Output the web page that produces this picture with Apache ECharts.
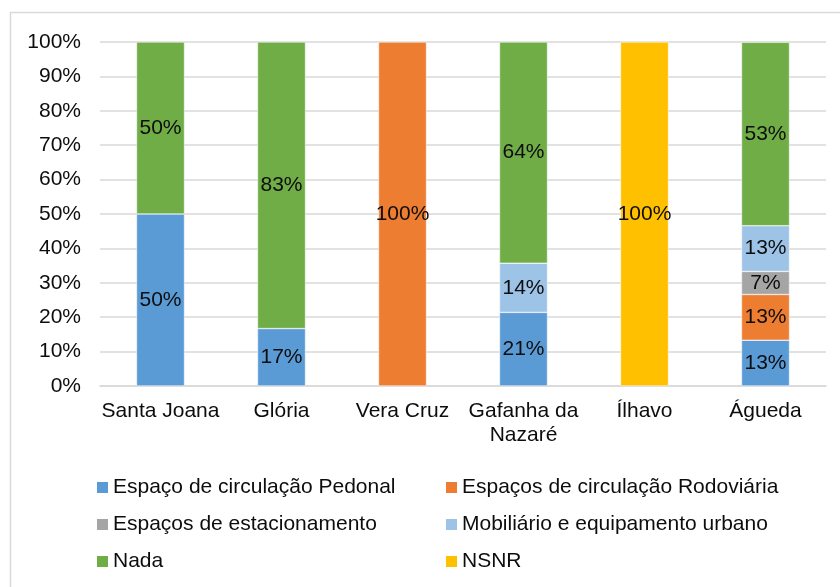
<!DOCTYPE html>
<html>
<head>
<meta charset="utf-8">
<script src="https://cdn.jsdelivr.net/npm/echarts@6/dist/echarts.min.js"></script>
<style>
  html, body { margin: 0; padding: 0; background: #fff; }
  #chart { width: 840px; height: 587px; }
</style>
</head>
<body>
<div id="chart"></div>
<script>
// Places surveyed
const categories = ['Santa Joana', 'Glória', 'Vera Cruz', 'Gafanha da\nNazaré', 'Ílhavo', 'Águeda'];

// Share of answers per place (%), one array per answer
const pedonal        = [50, 16.7, null, 21.4, null, 13.3];
const rodoviaria     = [null, null, 100, null, null, 13.3];
const estacionamento = [null, null, null, null, null, 6.7];
const mobiliario     = [null, null, null, 14.3, null, 13.3];
const nada           = [50, 83.3, null, 64.3, null, 53.3];
const nsnr           = [null, null, null, null, 100, null];

const seriesNames = [
  'Espaço de circulação Pedonal',
  'Espaços de circulação Rodoviária',
  'Espaços de estacionamento',
  'Mobiliário e equipamento urbano',
  'Nada',
  'NSNR'
];
const seriesData = [pedonal, rodoviaria, estacionamento, mobiliario, nada, nsnr];
const colors = ['#5B9BD5', '#ED7D31', '#A5A5A5', '#9DC3E6', '#70AD47', '#FFC000'];

const FONT = 'Liberation Sans, Arial, sans-serif';
const FS = 21;

const chart = echarts.init(document.getElementById('chart'), null, { renderer: 'canvas' });

const series = seriesNames.map((name, i) => ({
  name,
  type: 'bar',
  stack: 'total',
  barWidth: 48,
  data: seriesData[i],
  itemStyle: { color: colors[i], borderColor: '#ffffff', borderWidth: 0.5 },
  label: {
    show: true,
    position: 'inside',
    color: '#0d0d0d',
    fontFamily: FONT,
    fontSize: FS,
    formatter: p => (p.value == null ? '' : Math.round(p.value) + '%')
  },
  emphasis: { disabled: true }
}));

const legendCommon = {
  orient: 'vertical',
  icon: 'rect',
  itemWidth: 11,
  itemHeight: 11,
  itemGap: 16,
  itemStyle: { borderWidth: 0 },
  textStyle: { fontFamily: FONT, fontSize: FS, color: '#0d0d0d' },
  selectedMode: false
};

chart.setOption({
  animation: false,
  color: colors,
  graphic: [{
    type: 'rect',
    shape: { x: 10.5, y: 12.5, width: 860, height: 620 },
    style: { fill: 'none', stroke: '#d9d9d9', lineWidth: 1.5 },
    silent: true
  }],
  grid: { left: 100, right: 14, top: 42, bottom: 201, containLabel: false },
  legend: [
    Object.assign({}, legendCommon, {
      left: 92, top: 472,
      data: [seriesNames[0], seriesNames[2], seriesNames[4]]
    }),
    Object.assign({}, legendCommon, {
      left: 441, top: 472,
      data: [seriesNames[1], seriesNames[3], seriesNames[5]]
    })
  ],
  xAxis: {
    type: 'category',
    data: categories,
    axisLine: { lineStyle: { color: '#d9d9d9', width: 1.5 } },
    axisTick: { show: false },
    axisLabel: {
      color: '#0d0d0d',
      fontFamily: FONT,
      fontSize: FS,
      lineHeight: 24,
      margin: 13,
      interval: 0
    }
  },
  yAxis: {
    type: 'value',
    min: 0,
    max: 100,
    interval: 10,
    axisLine: { show: false },
    axisTick: { show: false },
    splitLine: { lineStyle: { color: '#d9d9d9', width: 1.5 } },
    axisLabel: {
      color: '#0d0d0d',
      fontFamily: FONT,
      fontSize: FS,
      margin: 19,
      formatter: '{value}%'
    }
  },
  series
});
</script>
</body>
</html>
